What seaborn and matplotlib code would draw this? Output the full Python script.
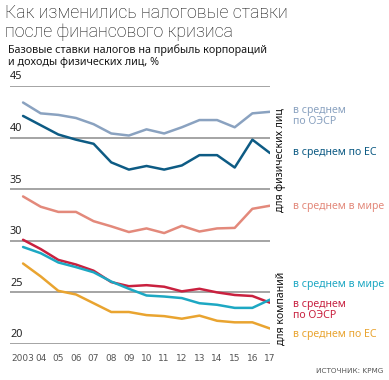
import seaborn as sns
import matplotlib.pyplot as plt
import pandas as pd

years = list(range(2003, 2018))
year_labels = ['2003', '04', '05', '06', '07', '08', '09', '10', '11', '12', '13', '14', '15', '16', '17']

# ставки для физических лиц
oecd_person = [43.4, 42.35, 42.2, 41.9, 41.3, 40.4, 40.2, 40.8, 40.4, 41.0, 41.7, 41.7, 41.0, 42.35, 42.5]
eu_person = [42.1, 41.2, 40.3, 39.8, 39.4, 37.6, 36.9, 37.25, 36.9, 37.3, 38.3, 38.3, 37.1, 39.8, 38.5]
world_person = [34.3, 33.3, 32.8, 32.8, 31.9, 31.4, 30.85, 31.2, 30.75, 31.45, 30.9, 31.2, 31.25, 33.1, 33.4]
# ставки для компаний
oecd_corp = [30.1, 29.2, 28.15, 27.7, 27.1, 26.0, 25.6, 25.7, 25.55, 25.1, 25.35, 25.0, 24.75, 24.65, 24.0]
world_corp = [29.4, 28.8, 27.9, 27.45, 26.95, 26.05, 25.35, 24.7, 24.6, 24.45, 23.95, 23.8, 23.5, 23.5, 24.3]
eu_corp = [27.8, 26.55, 25.15, 24.8, 23.95, 23.1, 23.1, 22.8, 22.7, 22.45, 22.75, 22.25, 22.1, 22.1, 21.5]

series = {
    'oecd_person': oecd_person, 'eu_person': eu_person, 'world_person': world_person,
    'oecd_corp': oecd_corp, 'world_corp': world_corp, 'eu_corp': eu_corp,
}
colors = {
    'oecd_person': '#8aa2c0', 'eu_person': '#0d5b84', 'world_person': '#e3897b',
    'oecd_corp': '#c9213f', 'world_corp': '#1da8c3', 'eu_corp': '#e9a430',
}

df = pd.concat([pd.DataFrame({'year': years, 'rate': v, 'series': k}) for k, v in series.items()])

sns.set_style('white')
plt.rcParams['font.family'] = ['Noto Sans', 'DejaVu Sans']

fig = plt.figure(figsize=(3.89, 3.80), dpi=100)
ax = fig.add_axes([10 / 389, 1 - 344 / 380, 260 / 389, 258 / 380])

for yv in [20, 25, 30, 35, 40, 45]:
    ax.axhline(yv, color='#8c8c8c', lw=1.1, zorder=1)
    ax.text(0.0, yv + 0.35, str(yv), transform=ax.get_yaxis_transform(),
            ha='left', va='bottom', fontsize=7.8, color='#222222')

sns.lineplot(data=df, x='year', y='rate', hue='series', palette=colors,
             lw=1.8, legend=False, ax=ax, zorder=3)

ax.set_xlim(2002.26, 2017.0)
ax.set_ylim(20, 45)
ax.set_xlabel('')
ax.set_ylabel('')
ax.set_yticks([])
ax.set_xticks(years)
ax.set_xticklabels(year_labels, fontsize=6.5, color='#555555',
                   family=['Liberation Sans Narrow', 'DejaVu Sans'])
ax.tick_params(axis='x', length=0, pad=7)
for s in ax.spines.values():
    s.set_visible(False)

# заголовки
fig.text(5 / 389, 1 - 4 / 380, 'Как изменились налоговые ставки\nпосле финансового кризиса',
         ha='left', va='top', fontsize=12.8, color='#111111', weight='light', linespacing=1.08,
         family=['Roboto', 'DejaVu Sans'])
fig.text(8 / 389, 1 - 44 / 380, 'Базовые ставки налогов на прибыль корпораций\nи доходы физических лиц, %',
         ha='left', va='top', fontsize=7.8, color='#1a1a1a', weight='bold', linespacing=1.2)

# подписи серий
lab = dict(ha='left', va='center', fontsize=7.6)
fig.text(293 / 389, 1 - 116 / 380, 'в среднем\nпо ОЭСР', color=colors['oecd_person'], linespacing=0.95, **lab)
fig.text(293 / 389, 1 - 153 / 380, 'в среднем по ЕС', color=colors['eu_person'], **lab)
fig.text(293 / 389, 1 - 207 / 380, 'в среднем в мире', color=colors['world_person'], **lab)
fig.text(293 / 389, 1 - 285 / 380, 'в среднем в мире', color=colors['world_corp'], **lab)
fig.text(293 / 389, 1 - 310 / 380, 'в среднем\nпо ОЭСР', color=colors['oecd_corp'], linespacing=0.95, **lab)
fig.text(293 / 389, 1 - 335 / 380, 'в среднем по ЕС', color=colors['eu_corp'], **lab)

fig.text(281 / 389, 1 - 160 / 380, 'для физических лиц', rotation=90, ha='center', va='center',
         fontsize=7.6, color='#111111')
fig.text(281 / 389, 1 - 308 / 380, 'для компаний', rotation=90, ha='center', va='center',
         fontsize=7.6, color='#111111')

fig.text(383 / 389, 1 - 371 / 380, 'ИСТОЧНИК: KPMG', ha='right', va='center', fontsize=5.2,
         color='#555555', family=['Liberation Sans Narrow', 'DejaVu Sans'])

fig.savefig('out.png', dpi=100)
